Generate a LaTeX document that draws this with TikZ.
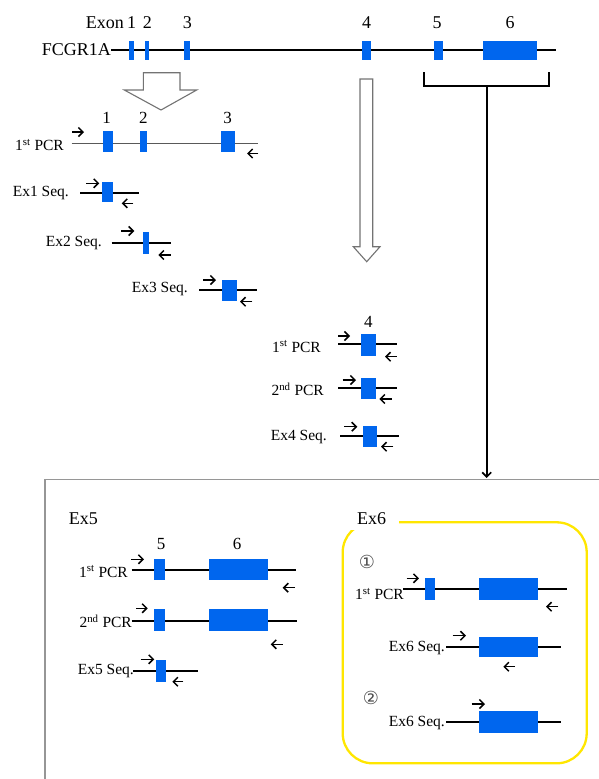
\documentclass[tikz,border=0pt]{standalone}
\usepackage{fontspec}
\setmainfont{Liberation Serif}
\newfontfamily\symfont{DejaVu Sans}
\usetikzlibrary{arrows.meta}
\definecolor{exblue}{RGB}{0,102,238}
\definecolor{hlyellow}{RGB}{255,230,0}
\definecolor{framegray}{RGB}{150,150,150}
\definecolor{hollowgray}{RGB}{115,115,115}
\newcommand\exb[5]{\node[exonbox, minimum width={#3-#2}, minimum height={#5-#4}] (#1) at ({(#2+#3)/2},{(#4+#5)/2}) {};}
\newcommand\gline[5][gene]{\coordinate (#2s) at (#3,#5); \coordinate (#2e) at (#4,#5); \draw[#1] (#2s) -- (#2e);}
\newcommand\fwd[4]{\coordinate (#1s) at (#2,#4); \coordinate (#1e) at (#3,#4); \draw[primer] (#1s) -- (#1e);}
\newcommand\rev[4]{\coordinate (#1s) at (#3,#4); \coordinate (#1e) at (#2,#4); \draw[primer] (#1s) -- (#1e);}
\begin{document}
\begin{tikzpicture}[x=1pt,y=-1pt,
  exonbox/.style={fill=exblue, draw=none, inner sep=0pt, outer sep=0pt},
  gene/.style={line width=1.7pt, black},
  thingene/.style={line width=1.2pt, black!65},
  primer/.style={line width=1.5pt, -{Straight Barb[length=4.5pt,width=9pt]}},
  toplabel/.style={font=\fontsize{18}{20}\selectfont, inner sep=0pt},
  rowlabel/.style={font=\fontsize{15.5}{18}\selectfont, inner sep=0pt, anchor=east},
  hollow/.style={draw=hollowgray, line width=1.1pt, fill=white, line join=miter},
  circnum/.style={font=\symfont\fontsize{18}{20}\selectfont, text=black!70, inner sep=0pt},
]
\useasboundingbox (0,0) rectangle (599,779);

% ---------- gene overview ----------
\node[toplabel, anchor=east] (exonlbl) at (124,23) {Exon};
\node[toplabel] (n1) at (131.5,23) {1};
\node[toplabel] (n2) at (147.3,23) {2};
\node[toplabel] (n3) at (187.3,23) {3};
\node[toplabel] (n4) at (366.7,23) {4};
\node[toplabel] (n5) at (437,23) {5};
\node[toplabel] (n6) at (510,23) {6};
\node[toplabel, anchor=east] (fcgr) at (111,50) {FCGR1A};
\gline{top}{111}{556}{50.3}
\exb{t1}{129.3}{134}{40.7}{60}
\exb{t2}{145.3}{149}{40.7}{60}
\exb{t3}{183.7}{190.3}{40.7}{60}
\exb{t4}{361.7}{371}{40.7}{60}
\exb{t5}{433.7}{443.3}{40.7}{60}
\exb{t6}{482.7}{537.3}{40.7}{60}

% bracket and stem
\coordinate (bl) at (424,72);
\coordinate (blc) at (424,86);
\coordinate (brc) at (549,86);
\coordinate (br) at (549,72);
\draw[gene] (bl) -- (blc) -- (brc) -- (br);
\coordinate (stemtop) at (486.7,86);
\coordinate (stemend) at (486.7,478);
\draw[gene, -{Straight Barb[length=4.5pt,width=9pt]}] (stemtop) -- (stemend);

% hollow arrows
\draw[hollow] (143.3,72.7) -- (180,72.7) -- (180,90) -- (196.7,90) -- (161,110) -- (124.3,90) -- (143.3,90) -- cycle;
\draw[hollow] (360,79) -- (372.7,79) -- (372.7,246.7) -- (380,246.7) -- (366.7,261.7) -- (353.3,246.7) -- (360,246.7) -- cycle;

% ---------- exons 1-3 ----------
\node[toplabel, font=\fontsize{17}{19}\selectfont] (m1) at (106.7,118.3) {1};
\node[toplabel, font=\fontsize{17}{19}\selectfont] (m2) at (143.3,118.3) {2};
\node[toplabel, font=\fontsize{17}{19}\selectfont] (m3) at (227.7,118.3) {3};
\node[rowlabel] (pcrA) at (64,145) {1\textsuperscript{st} PCR};
\gline[thingene]{lA}{71.7}{258.3}{143.3}
\exb{a1}{102.7}{112.7}{131}{151.7}
\exb{a2}{140}{146.7}{131}{151.7}
\exb{a3}{220.7}{235}{131}{151.7}
\fwd{fA}{72}{84}{132}
\rev{rA}{247}{258.3}{153.5}

\node[rowlabel] (seq1) at (69,193.5) {Ex1 Seq.};
\gline{lB}{80}{139.3}{193.3}
\exb{b1}{102.3}{112.7}{181.7}{202.3}
\fwd{fB}{86}{99.3}{183.3}
\rev{rB}{121.7}{133.3}{203.3}

\node[rowlabel] (seq2) at (102,243.5) {Ex2 Seq.};
\gline{lC}{111.7}{170.7}{243.3}
\exb{c1}{142.7}{148.7}{231.7}{254.3}
\fwd{fC}{121}{134.3}{231}
\rev{rC}{158.3}{170.7}{255}

\node[rowlabel] (seq3) at (188,289) {Ex3 Seq.};
\gline{lD}{199.3}{257.3}{290}
\exb{d1}{221.7}{236.7}{280}{301}
\fwd{fD}{203.3}{216}{280}
\rev{rD}{240}{252.3}{301.7}

% ---------- exon 4 ----------
\node[toplabel, font=\fontsize{17}{19}\selectfont] (q4) at (368.3,321.7) {4};
\node[rowlabel] (pcr4a) at (321,346.5) {1\textsuperscript{st} PCR};
\gline{lE}{338.3}{396.7}{344.3}
\exb{e1}{361}{375.7}{334}{356}
\fwd{fE}{338.3}{350}{336}
\rev{rE}{385}{396.7}{356.7}

\node[rowlabel] (pcr4b) at (324,389) {2\textsuperscript{nd} PCR};
\gline{lF}{338.3}{396.7}{388.3}
\exb{f1}{361}{375.7}{378.3}{399}
\fwd{fF}{342.7}{356}{380}
\rev{rF}{379.3}{391.7}{399}

\node[rowlabel] (seq4) at (327,437) {Ex4 Seq.};
\gline{lG}{340}{399}{436}
\exb{g1}{362.7}{377.3}{425.7}{447.3}
\fwd{fG}{344.3}{357.3}{426.7}
\rev{rG}{381}{393.3}{446.7}

% ---------- frame ----------
\coordinate (fbl) at (45,779);
\coordinate (ftl) at (45,479.3);
\coordinate (ftr) at (599,479.3);
\draw[framegray, line width=1.5pt] (fbl) -- (ftl) -- (ftr);

% ---------- Ex5 ----------
\node[toplabel] (ex5lbl) at (83.3,518.3) {Ex5};
\node[toplabel, font=\fontsize{17}{19}\selectfont] (p5) at (161,544) {5};
\node[toplabel, font=\fontsize{17}{19}\selectfont] (p6) at (237,544) {6};

\node[rowlabel] (pcr5a) at (128,571.5) {1\textsuperscript{st} PCR};
\gline{lH}{131.7}{296}{570}
\exb{h5}{154.3}{165}{559.3}{580}
\exb{h6}{209}{268.3}{559.3}{580}
\fwd{fH}{131}{144}{559.3}
\rev{rH}{282.7}{295}{587.7}

\node[rowlabel] (pcr5b) at (132,621.5) {2\textsuperscript{nd} PCR};
\gline{lI}{131.7}{296.7}{620.7}
\exb{i5}{154.3}{165}{609.3}{631}
\exb{i6}{209}{268.3}{609.3}{631}
\fwd{fI}{136}{147.7}{608.3}
\rev{rI}{270.7}{282.7}{644.3}

\node[rowlabel] (seq5) at (134,671) {Ex5 Seq.};
\gline{lJ}{133.3}{198.3}{671}
\exb{j5}{155.7}{165.7}{660}{681.7}
\fwd{fJ}{140.7}{154.3}{659.3}
\rev{rJ}{172.3}{183.3}{681.7}

% ---------- Ex6 ----------
\draw[hlyellow, line width=2.3pt, rounded corners=30pt] (342.7,522.3) rectangle (586.7,763.3);
\node[fill=white, minimum width=52pt, minimum height=28pt, inner sep=0pt] (ex6bg) at (372.5,516) {};
\node[toplabel] (ex6lbl) at (371.7,518.3) {Ex6};
\node[circnum] (c1) at (367,562) {①};

\node[rowlabel] (pcr6) at (404,594) {1\textsuperscript{st} PCR};
\gline{lK}{403.3}{566.7}{589}
\exb{k5}{425.3}{435}{578.3}{600}
\exb{k6}{479}{538.3}{578.3}{600}
\fwd{fK}{406.7}{419}{578.3}
\rev{rK}{546}{558.3}{606.7}

\node[rowlabel] (seq6a) at (445,648) {Ex6 Seq.};
\gline{lL}{446}{560.7}{646.7}
\exb{l6}{479}{538.3}{637.3}{657.3}
\fwd{fL}{452.7}{466}{635.7}
\rev{rL}{503.3}{515}{666.7}

\node[circnum] (c2) at (371,698) {②};
\node[rowlabel] (seq6b) at (445,723.5) {Ex6 Seq.};
\gline{lM}{446}{560.7}{722.3}
\exb{m6}{479}{538.3}{711}{733.3}
\fwd{fM}{471.7}{485}{704}
\end{tikzpicture}
\end{document}
